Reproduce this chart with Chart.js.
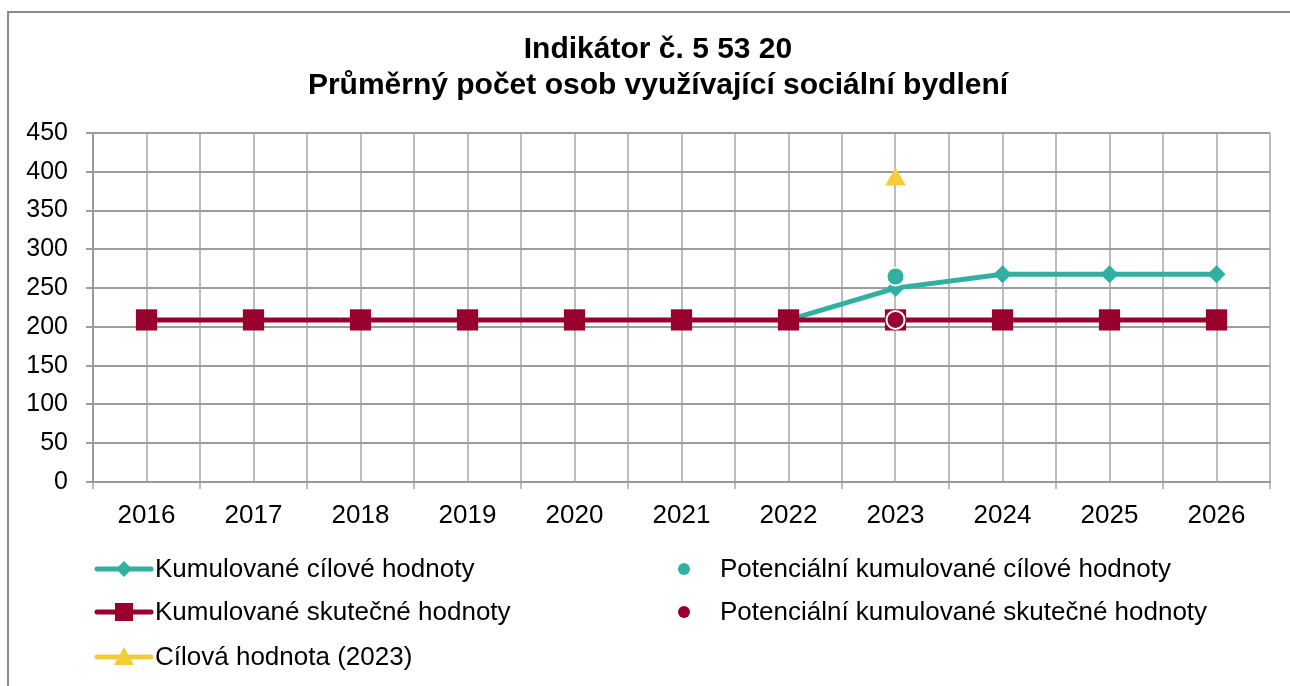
<!DOCTYPE html>
<html>
<head>
<meta charset="utf-8">
<script src="https://cdn.jsdelivr.net/npm/chart.js@4"></script>
<style>
  html, body { margin: 0; padding: 0; background: #fff; }
  #wrap { position: relative; width: 1290px; height: 686px; overflow: hidden; }
  #frame { position: absolute; left: 7px; top: 11px; width: 1300px; height: 700px;
           border-left: 2px solid #8a8a8a; border-top: 2px solid #8a8a8a; }
  canvas { position: absolute; left: 0; top: 0; }
</style>
</head>
<body>
<div id="wrap">
  <div id="frame"></div>
  <canvas id="chart" width="1290" height="686"></canvas>
</div>
<script>
// data
const years = ["2016", "2017", "2018", "2019", "2020", "2021", "2022", "2023", "2024", "2025", "2026"];
const targetCumulative = [null, null, null, null, null, null, 209, 250, 268, 268, 268];
const actualCumulative = [209, 209, 209, 209, 209, 209, 209, 209, 209, 209, 209];
const potentialTarget = [null, null, null, null, null, null, null, 265, null, null, null];
const potentialActual = [null, null, null, null, null, null, null, 209, null, null, null];
const targetValue2023 = [null, null, null, null, null, null, null, 390, null, null, null];
const yMin = 0, yMax = 450, yStep = 50;

const titleLines = ["Indikátor č. 5 53 20", "Průměrný počet osob využívající sociální bydlení"];
const seriesNames = [
  "Kumulované cílové hodnoty",
  "Kumulované skutečné hodnoty",
  "Cílová hodnota (2023)",
  "Potenciální kumulované cílové hodnoty",
  "Potenciální kumulované skutečné hodnoty",
];

const TEAL = "#2fb0a0";
const RED = "#98002e";
const YELLOW = "#f4cc38";
const FONT = "'Liberation Sans', Arial, sans-serif";

// draws line + marker samples and labels below the plot
function drawMarker(ctx, style, x, y, r, color) {
  ctx.fillStyle = color;
  ctx.beginPath();
  if (style === "diamond") {
    ctx.moveTo(x, y - r); ctx.lineTo(x + r, y); ctx.lineTo(x, y + r); ctx.lineTo(x - r, y);
  } else if (style === "square") {
    ctx.rect(x - r, y - r, 2 * r, 2 * r);
  } else if (style === "triangle") {
    ctx.moveTo(x, y - r); ctx.lineTo(x + r, y + r * 0.8); ctx.lineTo(x - r, y + r * 0.8);
  } else {
    ctx.arc(x, y, r, 0, Math.PI * 2);
  }
  ctx.closePath();
  ctx.fill();
}

const legendItems = [
  { name: seriesNames[0], color: TEAL, style: "diamond", r: 8, line: true, x: 97, y: 569 },
  { name: seriesNames[1], color: RED, style: "square", r: 9, line: true, x: 97, y: 612 },
  { name: seriesNames[2], color: YELLOW, style: "triangle", r: 10, line: true, x: 97, y: 657 },
  { name: seriesNames[3], color: TEAL, style: "circle", r: 6, line: false, x: 684, y: 569 },
  { name: seriesNames[4], color: RED, style: "circle", r: 6, line: false, x: 684, y: 612 },
];

const legendPlugin = {
  id: "bottomLegend",
  afterLayout(chart) {
    // centre the title a bit right of the canvas middle, like the original
    chart.titleBlock.left = 46;
  },
  afterDraw(chart) {
    const ctx = chart.ctx;
    ctx.save();
    ctx.font = "26px " + FONT;
    ctx.textBaseline = "middle";
    legendItems.forEach((it) => {
      if (it.line) {
        ctx.strokeStyle = it.color;
        ctx.lineWidth = 5;
        ctx.lineCap = "round";
        ctx.beginPath();
        ctx.moveTo(it.x, it.y);
        ctx.lineTo(it.x + 54, it.y);
        ctx.stroke();
        drawMarker(ctx, it.style, it.x + 27, it.y, it.r, it.color);
        ctx.fillStyle = "#000";
        ctx.fillText(it.name, it.x + 58, it.y + 1);
      } else {
        drawMarker(ctx, it.style, it.x, it.y, it.r, it.color);
        ctx.fillStyle = "#000";
        ctx.fillText(it.name, it.x + 36, it.y + 1);
      }
    });
    ctx.restore();
  },
};

const ctx = document.getElementById("chart").getContext("2d");
const chart = new Chart(ctx, {
  type: "line",
  data: {
    labels: years,
    datasets: [
      {
        label: seriesNames[2],
        data: targetValue2023,
        showLine: false,
        pointStyle: "triangle",
        pointRadius: 12,
        backgroundColor: YELLOW,
        borderColor: YELLOW,
        borderWidth: 0,
        order: 0,
      },
      {
        label: seriesNames[4],
        data: potentialActual,
        showLine: false,
        pointStyle: "circle",
        pointRadius: 9,
        backgroundColor: RED,
        borderColor: "#fff",
        pointBorderWidth: 2,
        order: 1,
      },
      {
        label: seriesNames[3],
        data: potentialTarget,
        showLine: false,
        pointStyle: "circle",
        pointRadius: 9,
        backgroundColor: TEAL,
        borderColor: "#fff",
        pointBorderWidth: 2,
        order: 2,
      },
      {
        label: seriesNames[1],
        data: actualCumulative,
        borderColor: RED,
        backgroundColor: RED,
        borderWidth: 5,
        pointStyle: "rect",
        pointRadius: 15,
        pointBorderWidth: 0,
        order: 3,
      },
      {
        label: seriesNames[0],
        data: targetCumulative,
        borderColor: TEAL,
        backgroundColor: TEAL,
        borderWidth: 5,
        pointStyle: "rectRot",
        pointRadius: 9,
        pointBorderWidth: 0,
        order: 4,
      },
    ],
  },
  options: {
    responsive: false,
    animation: false,
    layout: { padding: { left: 0, right: 20, top: 0, bottom: 144 } },
    plugins: {
      legend: { display: false },
      tooltip: { enabled: false },
      title: {
        display: true,
        text: titleLines,
        color: "#000",
        font: { family: FONT, size: 30, weight: "bold", lineHeight: 1.2 },
        padding: { top: 32, bottom: 29 },
      },
    },
    scales: {
      x: {
        type: "category",
        offset: true,
        grid: { offset: true, color: "#bdbdbd", lineWidth: 2, tickLength: 7 },
        border: { color: "#9a9a9a", width: 2 },
        ticks: { color: "#000", font: { family: FONT, size: 26 }, padding: 11, maxRotation: 0 },
        afterFit: (s) => { s.height = 60; },
      },
      xCenters: {
        type: "category",
        position: "bottom",
        offset: true,
        grid: { offset: false, color: "#bdbdbd", lineWidth: 2, drawTicks: false },
        border: { display: false },
        ticks: { display: false },
        afterFit: (s) => { s.height = 0; },
      },
      y: {
        min: yMin,
        max: yMax,
        ticks: { stepSize: yStep, color: "#000", font: { family: FONT, size: 25 }, padding: 18 },
        grid: { color: "#9d9d9d", lineWidth: 2, tickLength: 7 },
        border: { color: "#9a9a9a", width: 2 },
        afterFit: (s) => { s.width = 93; },
      },
    },
  },
  plugins: [legendPlugin],
});
</script>
</body>
</html>
